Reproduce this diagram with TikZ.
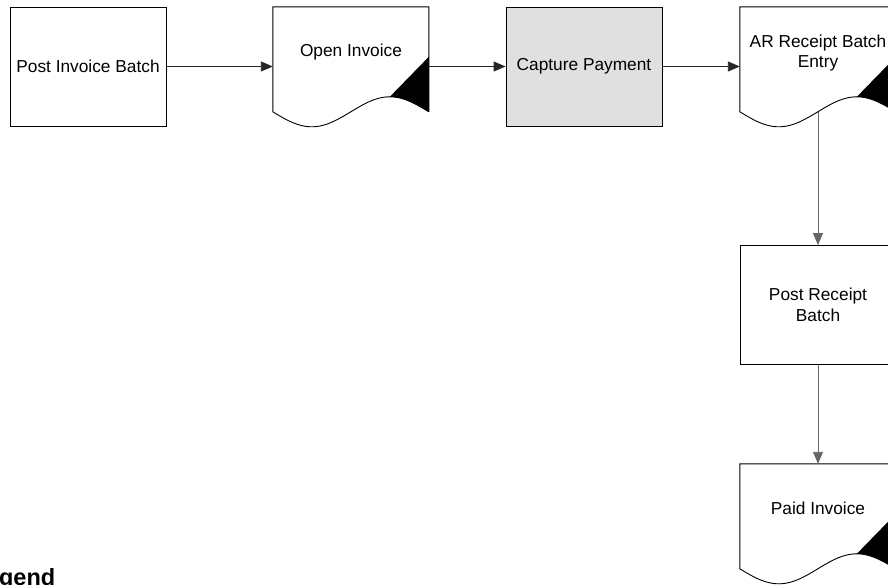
\documentclass[tikz,border=0pt]{standalone}
\usepackage{fontspec}
\setmainfont{Liberation Sans}
\usetikzlibrary{arrows.meta}

\definecolor{procfill}{RGB}{224,224,224}

\tikzset{
  procbox/.style={draw=black, line width=0.9pt, minimum width=156pt, minimum height=119pt,
                  inner sep=0pt, align=center, font=\fontsize{17.3}{20.5}\selectfont},
  docarea/.style={draw=none, minimum width=156pt, minimum height=105pt, inner sep=0pt},
  doctext/.style={align=center, inner sep=0pt, font=\fontsize{17.3}{20.5}\selectfont},
  docline/.style={draw=black, line width=0.9pt},
  flow/.style={line width=0.9pt, -{Triangle[length=12pt,width=10pt]}},
}

% Document symbol: square top, wavy bottom, black corner fold on the lower right
\newcommand\docoutline[1]{%
  \begin{scope}[shift={(#1.north west)}]
    \fill[black] (156,50) -- (117,90)
      -- plot[domain=117:156, samples=20] (\x,{105+15*sin(2.307692*\x)}) -- cycle;
    \draw[docline] (156,105) -- (156,0) -- (0,0) -- (0,105)
      -- plot[domain=0:156, samples=60] (\x,{105+15*sin(2.307692*\x)});
  \end{scope}}

\begin{document}
\begin{tikzpicture}[x=1pt, y=-1pt]
  \useasboundingbox (0,0) rectangle (888,584);

  % process boxes
  \node[procbox] (postinv) at (88,66.5) {Post Invoice Batch};
  \node[procbox, fill=procfill] (capture) at (584,66.5) {Capture Payment};
  \node[procbox] (postrec) at (818,305) {Post Receipt\\Batch};

  % documents
  \node[docarea] (openinv) at (351,59.5) {};
  \node[docarea] (arentry) at (818,59.5) {};
  \node[docarea] (paidinv) at (818,516.5) {};
  \docoutline{openinv}
  \docoutline{arentry}
  \docoutline{paidinv}
  \node[doctext] (openinvtxt) at ([yshift=-45pt]openinv.north) {Open Invoice};
  \node[doctext] (arentrytxt) at ([yshift=-46pt]arentry.north) {AR Receipt Batch\\Entry};
  \node[doctext] (paidinvtxt) at ([yshift=-45pt]paidinv.north) {Paid Invoice};

  % connectors
  \draw[flow, draw=black!85] (postinv.east) -- (postinv.east -| openinv.west);
  \draw[flow, draw=black!85] (capture.west -| openinv.east) -- (capture.west);
  \draw[flow, draw=black!85] (capture.east) -- (capture.east -| arentry.west);
  \draw[flow, draw=black!60] (arentry.south) -- (postrec.north);
  \draw[flow, draw=black!60] (postrec.south) -- (paidinv.north);

  % legend heading
  \node[anchor=base west, inner sep=0pt, font=\bfseries\fontsize{23.5}{28}\selectfont]
    (legend) at (-28.5,585.5) {Legend};
\end{tikzpicture}
\end{document}
